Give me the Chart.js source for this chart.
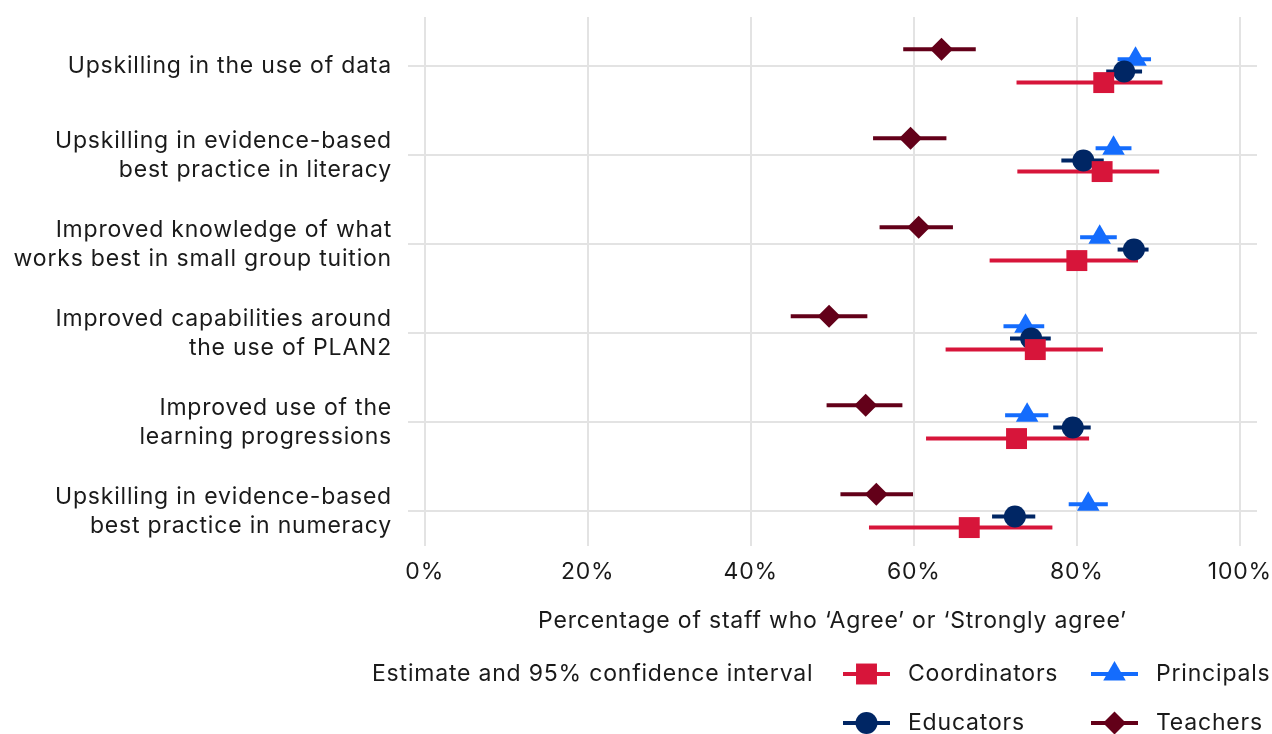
<!DOCTYPE html>
<html>
<head>
<meta charset="utf-8">
<script src="https://cdn.jsdelivr.net/npm/chart.js@4.4.1/dist/chart.umd.min.js"></script>
<style>
  html, body { margin: 0; padding: 0; background: #ffffff; }
  #wrap { width: 1272px; height: 734px; position: relative; }
</style>
</head>
<body>
<div id="wrap"><canvas id="ciChart"></canvas></div>
<script>
// categories, top to bottom
const categories = [
  ["Upskilling in the use of data"],
  ["Upskilling in evidence-based", "best practice in literacy"],
  ["Improved knowledge of what", "works best in small group tuition"],
  ["Improved capabilities around", "the use of PLAN2"],
  ["Improved use of the", "learning progressions"],
  ["Upskilling in evidence-based", "best practice in numeracy"]
];

const xTicks = [0, 20, 40, 60, 80, 100];

// estimates and 95% CI (percent)
const coordinatorsEst = [83.3, 83.1, 80.0, 74.9, 72.6, 66.8];
const coordinatorsLo  = [72.6, 72.7, 69.3, 63.9, 61.5, 54.5];
const coordinatorsHi  = [90.5, 90.1, 87.5, 83.2, 81.5, 77.0];

const educatorsEst = [85.8, 80.8, 87.0, 74.4, 79.5, 72.4];
const educatorsLo  = [83.6, 78.1, 85.0, 71.8, 77.1, 69.6];
const educatorsHi  = [88.0, 83.3, 88.8, 76.8, 81.7, 74.9];

const principalsEst = [87.2, 84.5, 82.8, 73.7, 73.9, 81.4];
const principalsLo  = [85.0, 82.3, 80.4, 71.0, 71.2, 79.0];
const principalsHi  = [89.1, 86.7, 84.9, 76.0, 76.5, 83.8];

const teachersEst = [63.4, 59.6, 60.6, 49.6, 54.1, 55.4];
const teachersLo  = [58.7, 55.0, 55.8, 44.9, 49.3, 51.0];
const teachersHi  = [67.6, 64.0, 64.8, 54.3, 58.6, 59.9];

const TEXT = "#1a1a1a";
const FONT = "Inter";
const FSIZE = 23;

// dodge offset inside each row
function makePoints(est, lo, hi, dodge) {
  return est.map((v, i) => ({ x: v, y: i + dodge, lo: lo[i], hi: hi[i] }));
}

const groups = [
  { label: "Coordinators", color: "#D7153A", style: "rect",     radius: 14.8, data: makePoints(coordinatorsEst, coordinatorsLo, coordinatorsHi, 0.181) },
  { label: "Educators",    color: "#002664", style: "circle",   radius: 11,   data: makePoints(educatorsEst, educatorsLo, educatorsHi, 0.057) },
  { label: "Principals",   color: "#146CFD", style: "triangle", radius: 13,   data: makePoints(principalsEst, principalsLo, principalsHi, -0.08) },
  { label: "Teachers",     color: "#630019", style: "rectRot",  radius: 11.5, data: makePoints(teachersEst, teachersLo, teachersHi, -0.193) }
];

// slightly wider text, the original font runs wider than Inter
const letterSpace = {
  id: "letterSpace",
  beforeDraw(chart) {
    chart.ctx.letterSpacing = "0.8px";
  }
};

// error bars under all markers
const errorBars = {
  id: "errorBars",
  beforeDatasetsDraw(chart) {
    const { ctx, scales: { x, y } } = chart;
    ctx.save();
    ctx.lineWidth = 4;
    ctx.lineCap = "butt";
    for (let i = chart.data.datasets.length - 1; i >= 0; i--) {
      const ds = chart.data.datasets[i];
      ctx.strokeStyle = ds.backgroundColor;
      ds.data.forEach(d => {
        const py = y.getPixelForValue(d.y);
        ctx.beginPath();
        ctx.moveTo(x.getPixelForValue(d.lo), py);
        ctx.lineTo(x.getPixelForValue(d.hi), py);
        ctx.stroke();
      });
    }
    ctx.restore();
  }
};

// legend: title on the left, 2 columns filled by column
const sideLegend = {
  id: "sideLegend",
  afterDraw(chart) {
    const ctx = chart.ctx;
    ctx.save();
    ctx.font = FSIZE + "px " + FONT;
    ctx.fillStyle = TEXT;
    ctx.textBaseline = "middle";
    ctx.textAlign = "left";
    ctx.fillText("Estimate and 95% confidence interval", 372, 674);

    const cols = [843, 1091];
    const rows = [674, 723];
    chart.data.datasets.forEach((ds, i) => {
      const x0 = cols[Math.floor(i / 2)];
      const y0 = rows[i % 2];
      ctx.strokeStyle = ds.backgroundColor;
      ctx.lineWidth = 4;
      ctx.beginPath();
      ctx.moveTo(x0, y0);
      ctx.lineTo(x0 + 47, y0);
      ctx.stroke();
      ctx.fillStyle = ds.backgroundColor;
      Chart.helpers.drawPoint(ctx, {
        pointStyle: ds.pointStyle, radius: ds.pointRadius, rotation: 0, borderWidth: 0
      }, x0 + 23.5, y0);
      ctx.fillStyle = TEXT;
      ctx.fillText(ds.label, x0 + 65, y0);
    });
    ctx.restore();
  }
};

Chart.defaults.font.family = FONT;
Chart.defaults.color = TEXT;

new Chart(document.getElementById("ciChart"), {
  type: "scatter",
  data: {
    datasets: groups.map((g, i) => ({
      label: g.label,
      data: g.data,
      backgroundColor: g.color,
      borderColor: g.color,
      borderWidth: 0,
      pointStyle: g.style,
      pointRadius: g.radius,
      pointHoverRadius: g.radius,
      order: i
    }))
  },
  options: {
    responsive: true,
    maintainAspectRatio: false,
    animation: false,
    layout: { padding: { top: 17, right: 15, left: 0, bottom: 0 } },
    plugins: {
      legend: { display: false },
      tooltip: { enabled: false }
    },
    scales: {
      x: {
        type: "linear",
        min: -2.05,
        max: 102.1,
        afterBuildTicks: s => { s.ticks = xTicks.map(v => ({ value: v })); },
        afterFit: s => { s.height = 188; s.paddingLeft = 0; s.paddingRight = 0; },
        ticks: {
          autoSkip: false,
          padding: 12,
          color: TEXT,
          font: { size: FSIZE },
          callback: v => v + "%"
        },
        grid: { color: "#E3E3E3", lineWidth: 2, drawTicks: false },
        border: { display: false },
        title: {
          display: true,
          text: "Percentage of staff who \u2018Agree\u2019 or \u2018Strongly agree\u2019",
          color: TEXT,
          font: { size: FSIZE },
          padding: { top: 0, bottom: 99 }
        }
      },
      y: {
        type: "linear",
        reverse: true,
        min: -0.556,
        max: 5.388,
        afterBuildTicks: s => { s.ticks = categories.map((_, i) => ({ value: i })); },
        afterFit: s => { s.width = 408; s.paddingTop = 0; s.paddingBottom = 0; },
        ticks: {
          autoSkip: false,
          padding: 16,
          color: TEXT,
          font: { size: FSIZE, lineHeight: 1.26 },
          callback: v => categories[v]
        },
        grid: { color: "#E3E3E3", lineWidth: 2, drawTicks: false },
        border: { display: false }
      }
    }
  },
  plugins: [letterSpace, errorBars, sideLegend]
});
</script>
</body>
</html>
